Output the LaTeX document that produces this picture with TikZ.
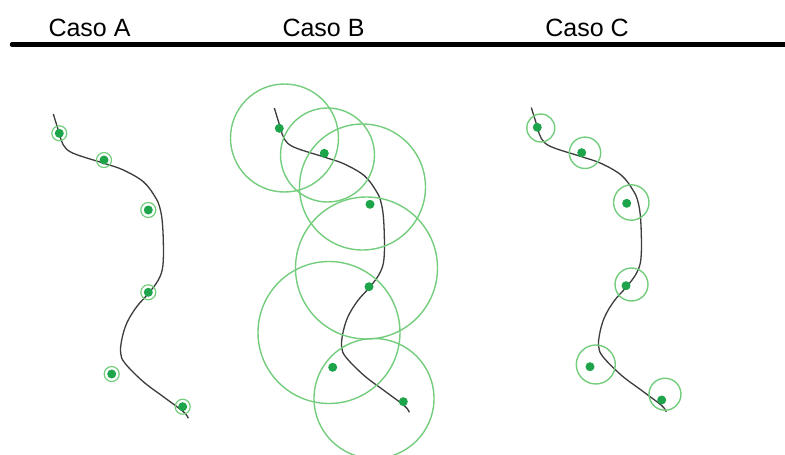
\documentclass[tikz,border=0pt]{standalone}
\usepackage{fontspec}
\setmainfont{Liberation Sans}
\definecolor{dotgreen}{RGB}{30,165,75}
\definecolor{ringgreen}{RGB}{115,205,125}
\definecolor{trackgray}{RGB}{60,60,60}
\tikzset{
  heading/.style={font=\fontsize{25}{30}\selectfont, anchor=base, inner sep=0pt},
  pt/.style={circle, fill=dotgreen, draw=none, minimum size=9pt, inner sep=0pt},
  ring/.style={draw=ringgreen, line width=1.4pt},
  track/.style={draw=trackgray, line width=1.3pt, line join=round},
}
% the same trajectory is drawn in every panel
\def\trackpts{(53.3,114) (59.3,133.3) (63.3,145) (73.3,153.3) (104,163.3) (123.3,170)
  (143.3,181.7) (155,196.7) (160,208.3) (162.7,226.7) (163.3,260) (160,276.7)
  (150,291.7) (136.7,306.7) (126.7,323.3) (121.7,340) (120.7,353.3) (125,363.3)
  (143.3,381.7) (163.3,396.7) (183.3,411.7) (188.3,418.3)}
\begin{document}
\begin{tikzpicture}[x=1pt,y=-1pt]
\useasboundingbox (0,0) rectangle (785,455);

% headings and rule
\node[heading] (ha) at (89.5,36.5) {Caso A};
\node[heading] (hb) at (323.5,36.5) {Caso B};
\node[heading] (hc) at (587,36.5) {Caso C};
\coordinate (rl) at (12,44.5);
\coordinate (rr) at (790,44.5);
\draw[line width=4.5pt, line cap=round] (rl) -- (rr);

% trajectories
\draw[track] plot[smooth, tension=0.6] coordinates {\trackpts};
\begin{scope}[shift={(221,-6)}]
  \draw[track] plot[smooth, tension=0.6] coordinates {\trackpts};
\end{scope}
\begin{scope}[shift={(478,-6.5)}]
  \draw[track] plot[smooth, tension=0.6] coordinates {\trackpts};
\end{scope}

% Caso A: tight rings
\foreach \i/\x/\y in {1/59.3/133.3, 2/104/160, 3/148.3/210, 4/148.3/292.3, 5/111.7/374, 6/182.7/406.7}{
  \draw[ring, line width=1.2pt] (\x,\y) circle[radius=7.5pt];
  \node[pt] (a\i) at (\x,\y) {};
}

% Caso B: large circles
\foreach \x/\y/\r in {284.5/138/54, 327.5/155/47, 362.5/187/63, 366.5/268/71, 329/332.5/71, 374/398.5/60}{
  \draw[ring] (\x,\y) circle[radius=\r pt];
}
\foreach \i/\x/\y in {1/279.3/128.3, 2/324.3/153.3, 3/370/204.3, 4/369/286.7, 5/332.7/367.3, 6/403.3/401.7}{
  \node[pt] (b\i) at (\x,\y) {};
}

% Caso C: medium circles
\foreach \x/\y/\r in {540.8/128/14, 585/152.8/15.7, 631.3/202.5/17.7, 631.5/284.5/16.5, 595.8/364.5/19.5, 665/394.2/16}{
  \draw[ring] (\x,\y) circle[radius=\r pt];
}
\foreach \i/\x/\y in {1/537.3/127.3, 2/581.7/152.7, 3/626.7/203.3, 4/626/285.7, 5/590/366.7, 6/661.7/400}{
  \node[pt] (c\i) at (\x,\y) {};
}
\end{tikzpicture}
\end{document}
